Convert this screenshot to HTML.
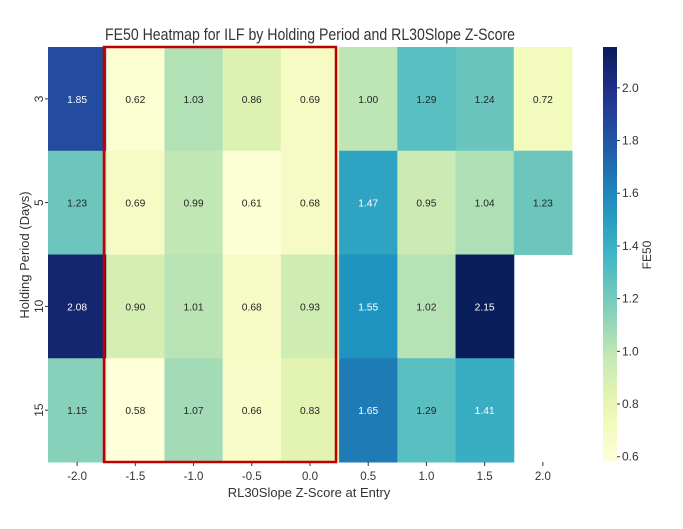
<!DOCTYPE html>
<html><head><meta charset="utf-8">
<style>
body{margin:0;background:#fff;width:683px;height:524px;overflow:hidden;font-family:"Liberation Sans","DejaVu Sans",sans-serif;}
</style></head>
<body>
<svg id="chart" width="683" height="524" xmlns="http://www.w3.org/2000/svg">
<text x="310" y="40" text-anchor="middle" font-size="17" fill="#333" textLength="410" lengthAdjust="spacingAndGlyphs">FE50 Heatmap for ILF by Holding Period and RL30Slope Z-Score</text>
<g id="cells"></g>
<g id="labels"></g>
<g id="cbar"></g>
<rect x="104" y="47" width="232" height="415" fill="none" stroke="#c00000" stroke-width="2.5"/>
<text x="309" y="497" text-anchor="middle" font-size="13" fill="#333">RL30Slope Z-Score at Entry</text>
<text transform="translate(29,255) rotate(-90)" text-anchor="middle" font-size="13" fill="#333">Holding Period (Days)</text>
<text transform="translate(651,255) rotate(-90)" text-anchor="middle" font-size="12" fill="#333">FE50</text>
</svg>
<script>
const xCats=["-2.0","-1.5","-1.0","-0.5","0.0","0.5","1.0","1.5","2.0"];
const yCats=["3","5","10","15"];
const row3=[1.85,0.62,1.03,0.86,0.69,1.00,1.29,1.24,0.72];
const row5=[1.23,0.69,0.99,0.61,0.68,1.47,0.95,1.04,1.23];
const row10=[2.08,0.90,1.01,0.68,0.93,1.55,1.02,2.15,null];
const row15=[1.15,0.58,1.07,0.66,0.83,1.65,1.29,1.41,null];
const cbTicks=[0.6,0.8,1.0,1.2,1.4,1.6,1.8,2.0];
const rows=[row3,row5,row10,row15];
const NS="http://www.w3.org/2000/svg";
const L=48,R=572,T=47,B=462,VMIN=0.58,VMAX=2.155;
const cw=(R-L)/xCats.length,rh=(B-T)/yCats.length;
const xPos=i=>L+i*cw, yPos=j=>T+j*rh;
const cbY=v=>B-(v-VMIN)/(VMAX-VMIN)*(B-T);
const stops=["#ffffd9","#edf8b1","#c7e9b4","#7fcdbb","#41b6c4","#1d91c0","#225ea8","#253494","#081d58"];
function hex(h){return [1,3,5].map(i=>parseInt(h.substr(i,2),16));}
function cmap(v){let t=Math.max(0,Math.min(1,(v-VMIN)/(VMAX-VMIN)))*(stops.length-1);let i=Math.min(Math.floor(t),stops.length-2),f=t-i;const a=hex(stops[i]),b=hex(stops[i+1]);return "rgb("+a.map((c,k)=>Math.round(c+(b[k]-c)*f)).join(",")+")";}
function el(tag,attrs,parent){const e=document.createElementNS(NS,tag);for(const k in attrs)e.setAttribute(k,attrs[k]);parent.appendChild(e);return e;}
const cells=document.getElementById('cells'),labels=document.getElementById('labels'),cbar=document.getElementById('cbar');
rows.forEach((row,j)=>{row.forEach((v,i)=>{if(v===null)return;
 const r=el('rect',{x:xPos(i),y:yPos(j),width:cw+0.5,height:rh+0.5,fill:cmap(v)},cells);
 
 
 const t=el('text',{x:xPos(i)+cw/2,y:yPos(j)+rh/2+4,'text-anchor':'middle','font-size':'10',fill:v>1.38?'#fff':'#262626',textLength:'20',lengthAdjust:'spacingAndGlyphs'},cells);
 t.textContent=v.toFixed(2);
 
 
});});
xCats.forEach((c,i)=>{const x=xPos(i)+cw/2;
 el('line',{x1:x,x2:x,y1:B,y2:B+4,stroke:'#333'},labels);
 const t=el('text',{x:x,y:B+18,'text-anchor':'middle','font-size':'11.5',fill:'#333'},labels);
 t.textContent=c;
 
 
});
yCats.forEach((c,j)=>{const y=yPos(j)+rh/2;
 el('line',{x1:L-3,x2:L,y1:y,y2:y,stroke:'#333'},labels);
 const t=el('text',{transform:'translate(43,'+y+') rotate(-90)','text-anchor':'middle','font-size':'12',fill:'#333'},labels);
 t.textContent=c;
 
 
});
const defs=el('defs',{},cbar);
const g=el('linearGradient',{id:'cg',x1:0,y1:1,x2:0,y2:0},defs);
for(let k=0;k<=20;k++){const v=VMIN+(VMAX-VMIN)*k/20;el('stop',{offset:k/20,'stop-color':cmap(v)},g);}
const cr=el('rect',{x:603,y:T,width:14,height:B-T,fill:'url(#cg)'},cbar);


cbTicks.forEach(v=>{const y=cbY(v);
 el('line',{x1:617,x2:620,y1:y,y2:y,stroke:'#333'},cbar);
 const t=el('text',{x:622,y:y+4,'font-size':'12',fill:'#333'},cbar);
 t.textContent=v.toFixed(1);
 
 
});
</script>
</body></html>
